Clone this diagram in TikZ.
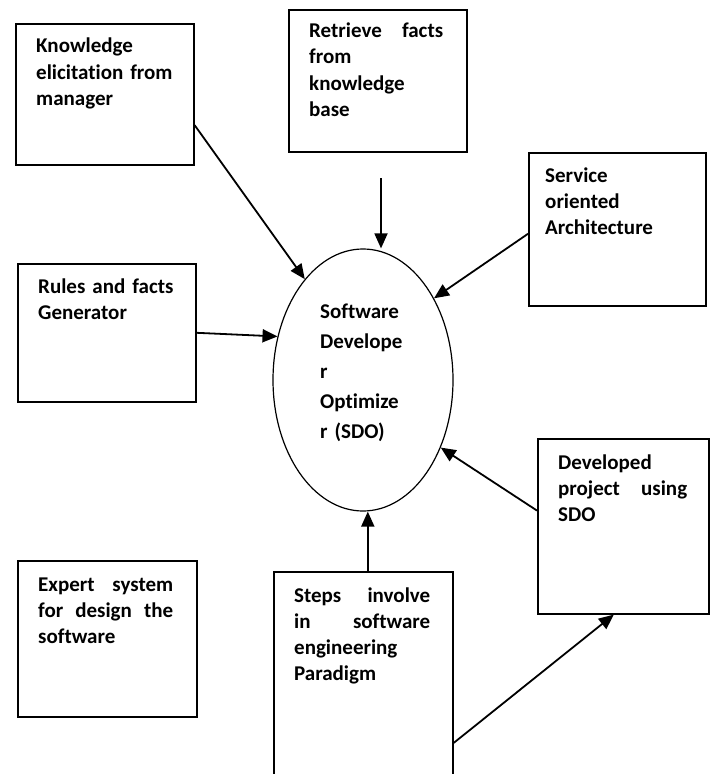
\documentclass[tikz,border=0pt]{standalone}
\usepackage{fontspec}
\setmainfont[Ligatures=NoCommon]{Carlito}
\usetikzlibrary{arrows.meta,shapes.geometric,calc}
\begin{document}
\begin{tikzpicture}[x=1bp,y=-1bp,
  box/.style={draw,line width=1.6bp,rectangle,inner sep=0,anchor=north west},
  txt/.style={anchor=base west,inner sep=0,align=left,font=\fontsize{21bp}{26bp}\selectfont\bfseries},
  arr/.style={line width=1.8bp,-{Triangle[length=15bp,width=13bp]}},
]
\useasboundingbox (0,0) rectangle (711,774);
\clip (0,0) rectangle (711,774);

% boxes
\node[box,minimum width=178bp,minimum height=141bp] (b1) at (15,23) {};
\node[box,minimum width=178bp,minimum height=142bp] (b2) at (288,9) {};
\node[box,minimum width=177bp,minimum height=153bp] (b3) at (528,152) {};
\node[box,minimum width=178bp,minimum height=138bp] (b4) at (17,263) {};
\node[box,minimum width=171bp,minimum height=175bp] (b5) at (537,438) {};
\node[box,minimum width=179bp,minimum height=240bp] (b6) at (273,571) {};
\node[box,minimum width=179bp,minimum height=156bp] (b7) at (17,560) {};

% texts
\node[txt,text width=150bp] (t1) at (36,53) {Knowledge\\ elicitation from\\ manager};
\node[txt,text width=134bp] (t2) at (309,38) {Retrieve\hfill facts\\ from\\ knowledge\\ base};
\node[txt,text width=150bp] (t3) at (545,182) {Service\\ oriented\\ Architecture};
\node[txt,text width=150bp] (t4) at (38,293) {Rules and facts\\ Generator};
\node[txt,text width=129bp] (t5) at (558,469) {Developed\\ project\hfill using\\ SDO};
\node[txt,text width=136bp] (t6) at (294,602) {Steps\hfill involve\\ in\hfill software\\ engineering\\ Paradigm};
\node[txt,text width=135bp] (t7) at (38,591) {Expert\hfill system\\ for\hfill design\hfill the\\ software};

% central ellipse
\node[ellipse,draw,line width=1.2bp,minimum width=180bp,minimum height=262bp,inner sep=0] (sdo) at (363,380) {};
\node[txt,text width=120bp,font=\fontsize{21bp}{30bp}\selectfont\bfseries] (sdotext) at (320,318) {Software\\ Develope\\ r\\ Optimize\\ r (SDO)};

% connectors
\coordinate (c2) at (381,178);
\coordinate (c6) at ($(b6.north)+(4.5,0)$);
\draw[arr] ($(b1.north east)!0.716!(b1.south east)$) -- (sdo.120.6);
\draw[arr] (c2) -- (c2 |- sdo.north);
\draw[arr] ($(b3.north west)!0.529!(b3.south west)$) -- (sdo.49);
\draw[arr] ($(b4.north east)!0.5!(b4.south east)$) -- (sdo.153.7);
\draw[arr] ($(b5.north west)!0.411!(b5.south west)$) -- (sdo.-41.5);
\draw[arr] (c6) -- (c6 |- sdo.south);
\draw[arr] ($(b6.north east)+(0,172)$) -- ($(b5.south)+(-9.5,0)$);
\end{tikzpicture}
\end{document}
